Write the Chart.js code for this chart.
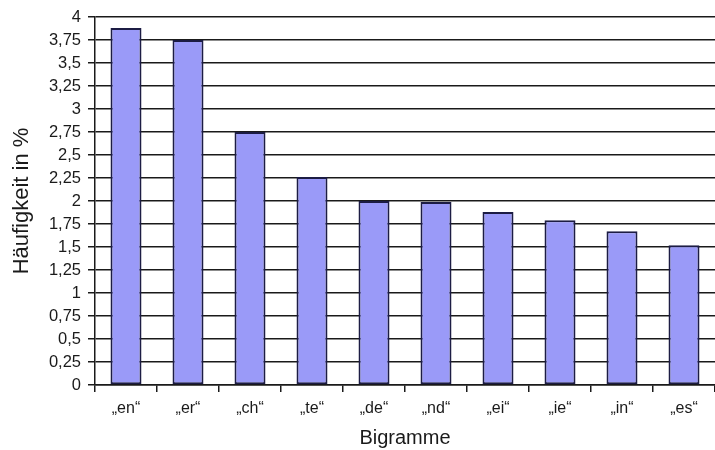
<!DOCTYPE html>
<html>
<head>
<meta charset="utf-8">
<script src="https://cdn.jsdelivr.net/npm/chart.js@4/dist/chart.umd.min.js"></script>
<style>
  html, body { margin: 0; padding: 0; background: #fff; }
  #wrap { width: 715px; height: 450px; }
</style>
</head>
<body>
<div id="wrap"><canvas id="c" width="715" height="450"></canvas></div>
<script>
// Häufigste Bigramme im Deutschen
const bigrams = ['„en“', '„er“', '„ch“', '„te“', '„de“', '„nd“', '„ei“', '„ie“', '„in“', '„es“'];
const percent = [3.88, 3.75, 2.75, 2.26, 2.00, 1.99, 1.88, 1.79, 1.67, 1.52];
const yMin = 0;
const yMax = 4;
const yStep = 0.25;

const font = "'Liberation Sans', Arial, sans-serif";

new Chart(document.getElementById('c'), {
  type: 'bar',
  data: {
    labels: bigrams,
    datasets: [{
      data: percent,
      backgroundColor: '#9a9af8',
      borderColor: '#1c1c44',
      borderWidth: 2,
      borderSkipped: false,
      barPercentage: 0.5,
      categoryPercentage: 1.0
    }]
  },
  options: {
    responsive: false,
    animation: false,
    devicePixelRatio: 1,
    layout: { padding: { top: 17, right: 0, bottom: 0, left: 0 } },
    plugins: { legend: { display: false }, tooltip: { enabled: false } },
    scales: {
      x: {
        afterFit: s => { s.height = 65; },
        grid: {
          drawOnChartArea: false,
          tickLength: 7,
          color: '#1a1a1a',
          lineWidth: 1.5
        },
        border: { color: '#1a1a1a', width: 1.5 },
        ticks: {
          color: '#1a1a1a',
          font: { family: font, size: 16 },
          padding: 7,
          maxRotation: 0
        },
        title: {
          display: true,
          text: 'Bigramme',
          color: '#1a1a1a',
          font: { family: font, size: 20 },
          padding: { top: 0, bottom: 0 }
        }
      },
      y: {
        min: yMin,
        max: yMax,
        afterFit: s => { s.width = 95; },
        grid: {
          tickLength: 7,
          color: '#1a1a1a',
          lineWidth: 1.5
        },
        border: { color: '#1a1a1a', width: 1.5 },
        ticks: {
          stepSize: yStep,
          color: '#1a1a1a',
          padding: 7,
          font: { family: font, size: 16.5 },
          callback: v => String(v).replace('.', ',')
        },
        title: {
          display: true,
          text: 'Häufigkeit in %',
          color: '#1a1a1a',
          font: { family: font, size: 22 },
          padding: { top: 9, bottom: 0 }
        }
      }
    }
  }
});
</script>
</body>
</html>
